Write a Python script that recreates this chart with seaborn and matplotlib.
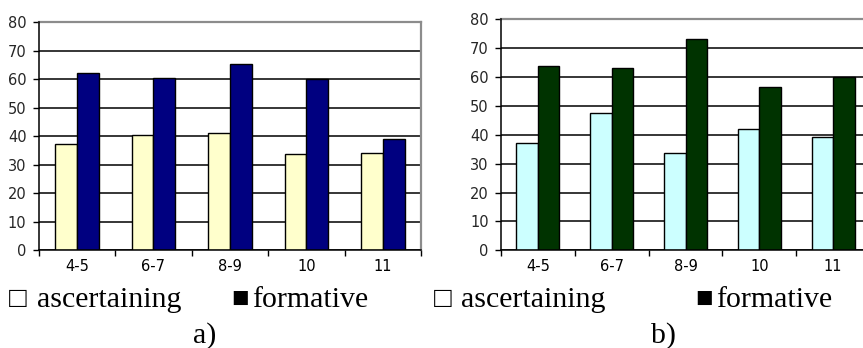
import numpy as np
import pandas as pd
import matplotlib
matplotlib.use("Agg")
import matplotlib.pyplot as plt
import seaborn as sns

# ---- data ----
ages = ["4-5", "6-7", "8-9", "10", "11"]
series = ["ascertaining", "formative"]
a_ascertaining = [37.3, 40.6, 41.2, 33.7, 34.1]
a_formative = [62.3, 60.5, 65.5, 60.1, 39.1]
b_ascertaining = [37.0, 47.5, 33.7, 42.1, 39.3]
b_formative = [63.6, 63.0, 73.0, 56.5, 59.8]
yticks = [0, 10, 20, 30, 40, 50, 60, 70, 80]
panel_labels = ["a)", "b)"]

sns.set_style("white")
plt.rcParams["font.family"] = ["DejaVu Sans"]

def make_df(asc, form):
    return pd.DataFrame({
        "age": ages * 2,
        "type": [series[0]] * len(ages) + [series[1]] * len(ages),
        "value": list(asc) + list(form),
    })

fig = plt.figure(figsize=(8.63, 3.48), dpi=100)
fig.patch.set_facecolor("white")

ax_a = fig.add_axes([38.7 / 863, 97.6 / 348, 382.3 / 863, 228.2 / 348])
ax_b = fig.add_axes([501 / 863, 97.6 / 348, 369 / 863, 231.4 / 348])

panels = [
    (ax_a, make_df(a_ascertaining, a_formative), ["#FFFFCC", "#000080"], 0.57),
    (ax_b, make_df(b_ascertaining, b_formative), ["#CCFFFF", "#003300"], 0.585),
]

for ax, df, pal, w in panels:
    sns.barplot(data=df, x="age", y="value", hue="type", hue_order=series,
                order=ages, palette=pal, saturation=1, width=w, gap=0,
                edgecolor="black", linewidth=1.0, legend=False, ax=ax,
                errorbar=None)
    ax.set_xlim(-0.5, len(ages) - 0.5)
    ax.set_ylim(0, 80)
    ax.set_yticks(yticks)
    ax.set_yticklabels([str(t) for t in yticks])
    ax.set_xticks(np.arange(-0.5, len(ages), 1.0))
    ax.set_xticklabels([])
    ax.set_xticks(np.arange(len(ages)), minor=True)
    ax.set_xticklabels(ages, minor=True)
    ax.tick_params(axis="x", which="major", length=4.5, width=1.0,
                   color="black", direction="out", bottom=True)
    ax.tick_params(axis="x", which="minor", length=0, pad=6.5,
                   labelsize=10.5, colors="black", bottom=True)
    ax.tick_params(axis="y", which="major", length=4.3, width=1.0,
                   color="black", direction="out", pad=4.5, labelsize=10.5,
                   left=True)
    ax.set_xlabel("")
    ax.set_ylabel("")
    ax.yaxis.grid(True, color="black", linewidth=1.1)
    ax.xaxis.grid(False)
    ax.set_axisbelow(True)
    for s in ["left", "bottom"]:
        ax.spines[s].set_color("black")
        ax.spines[s].set_linewidth(1.1)
        ax.spines[s].set_zorder(3)
    for s in ["top", "right"]:
        ax.spines[s].set_color("#8c8c8c")
        ax.spines[s].set_linewidth(1.6)
        ax.spines[s].set_visible(True)

# ---- legend rows and panel labels (figure text) ----
serif = ["Liberation Serif", "DejaVu Serif"]
base_y = (348 - 306.7) / 348
word_size = 21.5
box_size = 21

legend_layout = [
    # (box x, word x) for each series, per panel
    [(9.0, 37.0), (231.0, 252.5)],
    [(434.0, 461.0), (695.0, 716.5)],
]
boxes = ["\u25a1", "\u25a0"]
for panel in legend_layout:
    for (bx, wx), name, box in zip(panel, series, boxes):
        fig.text(bx / 863, base_y, box, family=serif, fontsize=box_size,
                 ha="left", va="baseline", color="black")
        fig.text(wx / 863, base_y, name, family=serif, fontsize=word_size,
                 ha="left", va="baseline", color="black")

label_y = (348 - 342.5) / 348
for lbl, cx in zip(panel_labels, [204.2, 663.0]):
    fig.text(cx / 863, label_y, lbl, family=serif, fontsize=word_size,
             ha="center", va="baseline", color="black")

fig.savefig("out.png", dpi=100, facecolor="white")
